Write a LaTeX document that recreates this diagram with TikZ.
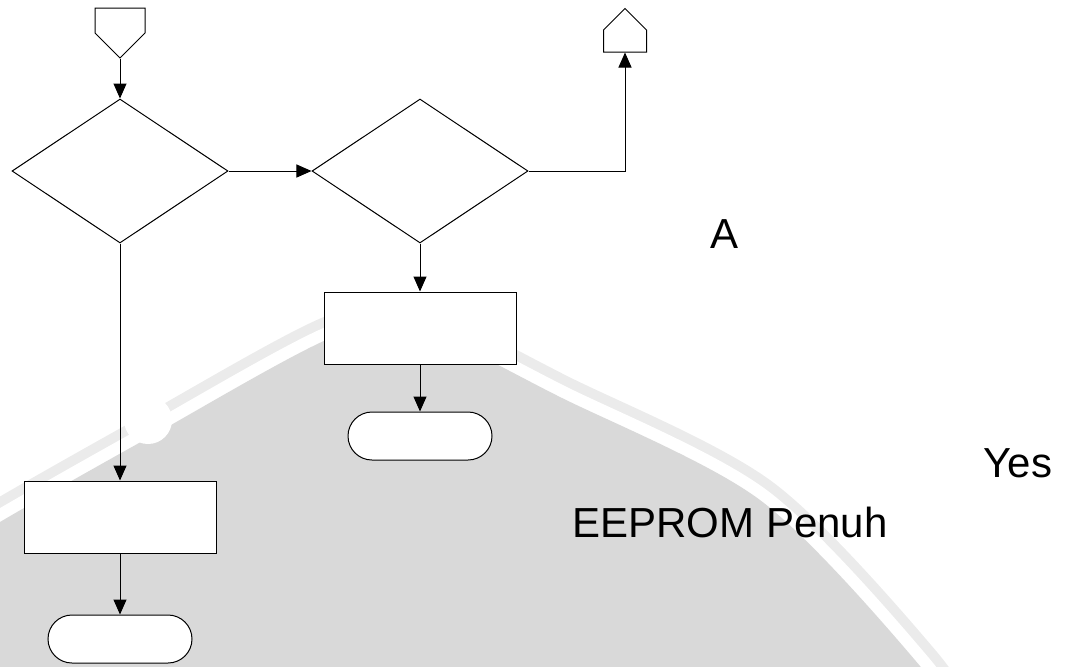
\documentclass[tikz,border=0pt]{standalone}
\usepackage{fontspec}
\setmainfont{Liberation Sans}
\usetikzlibrary{arrows.meta,positioning,shapes.geometric,shapes.misc,shapes.symbols}

\begin{document}
\begin{tikzpicture}[x=1pt,y=1pt,>={Triangle[length=7.5pt,width=6.5pt]},node distance=70pt,on grid,line width=0.5pt,
    decision/.style={diamond,draw,fill=white,inner sep=0pt,minimum width=108pt,minimum height=72pt},
    process/.style={rectangle,draw,fill=white,inner sep=0pt,minimum width=96pt,minimum height=36pt},
    terminal/.style={rounded rectangle,draw,fill=white,inner sep=0pt,minimum width=72pt,minimum height=24pt},
    offpage/.style={signal,draw,fill=white,inner sep=0pt,signal from=nowhere},
    plaintext/.style={font=\fontsize{21}{25}\selectfont,inner sep=0pt,anchor=base west}]
    \useasboundingbox (0,0) rectangle (532.5,-333);
    \clip (0,0) rectangle (532.5,-333);
    % grey seal in the background: outer ring, white gap, disc
    \def\sealedge{plot[smooth] coordinates {(-20,-275) (0,-261) (74,-219) (166.5,-168.5) (210,-165)
        (280,-198.5) (380,-250) (460,-333) (490,-380)} -- (600,-500) -- (-100,-500) -- cycle}
    \draw[black!8,line width=22pt] \sealedge;
    \draw[white,line width=12pt] \sealedge;
    \fill[black!15] \sealedge;
    \fill[white] (74,-210) circle (12);

    \node[decision] (d1) at (60,-85.5) {};
    \node[offpage,signal to=south,minimum width=25pt,minimum height=12.5pt] (c1) [above=75.25pt of d1] {};
    \node[decision] (d2) [right=150pt of d1] {};
    \node[offpage,signal to=north,minimum width=21.5pt,minimum height=11pt] (c2) at (312.5,-20.5) {};
    \node[process] (r2) [below=78.5pt of d2] {};
    \node[terminal] (t2) [below=54pt of r2] {};
    \node[process] (r1) [below=173pt of d1] {};
    \node[terminal] (t1) [below=61pt of r1] {};

    \node[plaintext] (a) at (355,-124) {A};
    \node[plaintext] (yes) at (491.5,-238.5) {Yes};
    \node[plaintext] (full) at (286,-268.5) {EEPROM Penuh};

    \path[->]
    (c1) edge (d1)
    (d1) edge (d2)
    (d2) edge (r2)
    (r2) edge (t2)
    (d1) edge (r1)
    (r1) edge (t1);
    \draw[->] (d2.east) -| (c2.south);
\end{tikzpicture}
\end{document}
